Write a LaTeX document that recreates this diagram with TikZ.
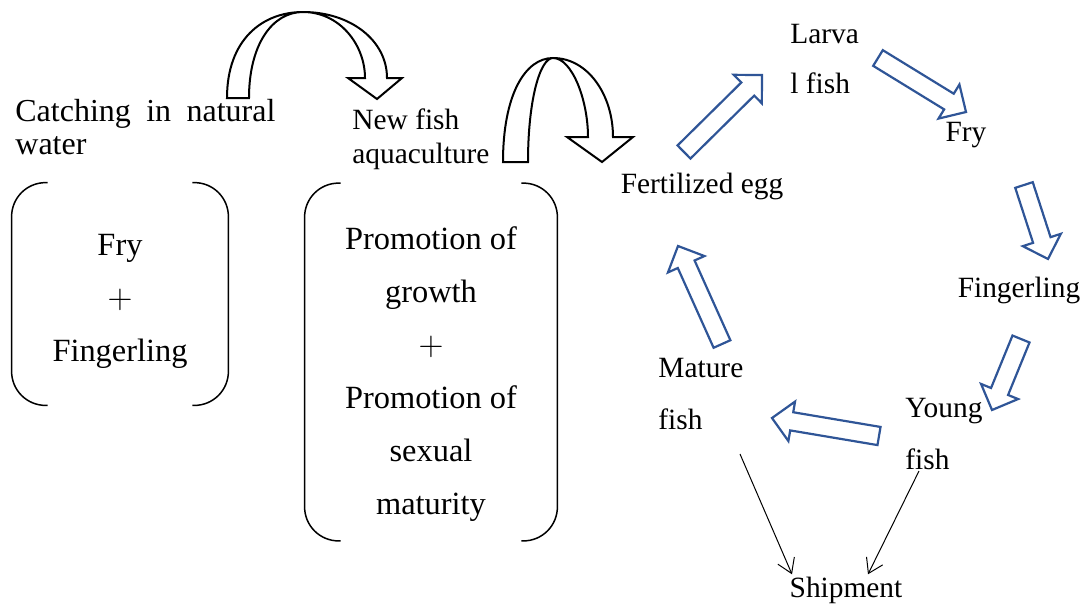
\documentclass[tikz,border=0pt]{standalone}
\usepackage{fontspec}
\setmainfont{Liberation Serif}
\usetikzlibrary{positioning,calc,arrows.meta}

\definecolor{cycleblue}{HTML}{2F5597}

\tikzset{
  stage/.style={inner sep=0pt, align=left, font=\fontsize{14.7}{#1}\selectfont},
  stage/.default=26,
  stagebox/.style={inner sep=0pt, align=center, font=\fontsize{16.2}{26.5}\selectfont},
  frame/.style={inner sep=0pt},
  brack/.style={line width=0.75pt, rounded corners=17pt},
  uturn/.style={draw=black, line width=1pt, fill=white},
  hollow/.style={draw=cycleblue, line width=1.1pt, fill=white, line join=miter},
  ship/.style={-{Straight Barb[length=7pt,width=9pt]}, line width=0.5pt}
}

% hollow block arrow from #1 to #2
\newcommand{\hollowarrow}[2]{%
  \coordinate (hb) at ($(#2)!10pt!(#1)$);
  \draw[hollow] ($(#1)!4.6pt!90:(#2)$) -- ($(hb)!4.6pt!-90:(#1)$) -- ($(hb)!10pt!-90:(#1)$) -- (#2)
    -- ($(hb)!10pt!90:(#1)$) -- ($(hb)!4.6pt!90:(#1)$) -- ($(#1)!4.6pt!-90:(#2)$) -- cycle;
}

\begin{document}
\begin{tikzpicture}[x=0.5pt, y=-0.5pt]
    \useasboundingbox (0,0) rectangle (1083,607);

    % Left side: wild catch and aquaculture
    \node[inner sep=0pt, align=left, font=\fontsize{16}{16.5}\selectfont, text width=130pt, anchor=north west] (catch) at (15,99) {Catching\hfill in\hfill natural\\water};
    \node[stage=17, anchor=north west] (newfish) at (352,108) {New fish\\aquaculture};
    \node[frame, minimum width=108pt, minimum height=111pt] (wild) at (120,294) {};
    \node[frame, minimum width=126pt, minimum height=178.5pt] (grow) at (431,362) {};
    \node[stagebox] (wildtext) at ([yshift=-3.5pt]wild.center) {Fry\\$+$\\Fingerling};
    \node[stagebox] (growtext) at ([yshift=-6pt]grow.center) {Promotion of\\growth\\$+$\\Promotion of\\sexual\\maturity};
    \foreach \b in {wild,grow} {
        \draw[brack] ([xshift=18pt]\b.north west) -- (\b.north west) -- (\b.south west) -- ([xshift=18pt]\b.south west);
        \draw[brack] ([xshift=-18pt]\b.north east) -- (\b.north east) -- (\b.south east) -- ([xshift=-18pt]\b.south east);
    }

    % Curved arrows
    \draw[uturn] (227,98) .. controls (227,40) and (262,12) .. (303,12) .. controls (350,12) and (387,40) .. (387,78)
        -- (402,78) -- (377,99) -- (348,78) -- (365,78) .. controls (365,45) and (340,12) .. (303,12)
        .. controls (272,12) and (249,45) .. (249,98) -- cycle;
    \draw[uturn] (503,162) .. controls (503,95) and (525,58) .. (553,58) .. controls (588,58) and (613,95) .. (613,137)
        -- (633,137) -- (602,162) -- (567,137) -- (588,137) .. controls (588,100) and (572,58) .. (553,58)
        .. controls (540,58) and (528,100) .. (528,162) -- cycle;

    % Life cycle stages
    \node[stage] (egg) at (702,186) {Fertilized egg};
    \node[stage=25, anchor=north west] (larva) at (790,24) {Larva\\l fish};
    \node[stage] (fry) at (966,135) {Fry};
    \node[stage] (finger) at (1019,290) {Fingerling};
    \node[stage, anchor=north west] (young) at (905,398) {Young\\fish};
    \node[stage, anchor=north west] (mature) at (658,358) {Mature\\fish};
    \node[stage] (ship) at (846,590) {Shipment};

    % Arrow ends
    \coordinate (egg-out) at (684,152);    \coordinate (larva-in) at (762,75);
    \coordinate (larva-out) at (878,58);   \coordinate (fry-in) at (966,112);
    \coordinate (fry-out) at (1024,185);   \coordinate (finger-in) at (1048,259);
    \coordinate (finger-out) at (1021,339); \coordinate (young-in) at (992,410);
    \coordinate (young-out) at (879,436);  \coordinate (mature-in) at (772,418);
    \coordinate (mature-out) at (722,344); \coordinate (egg-in) at (678,246);

    \hollowarrow{egg-out}{larva-in}
    \hollowarrow{larva-out}{fry-in}
    \hollowarrow{fry-out}{finger-in}
    \hollowarrow{finger-out}{young-in}
    \hollowarrow{young-out}{mature-in}
    \hollowarrow{mature-out}{egg-in}

    % Shipment
    \coordinate (mature-ship) at (740,454);
    \coordinate (young-ship) at (919,471);
    \draw[ship] (mature-ship) -- ($(ship.north)+(-54,-2)$);
    \draw[ship] (young-ship) -- ($(ship.north)+(22,-2)$);
\end{tikzpicture}
\end{document}
